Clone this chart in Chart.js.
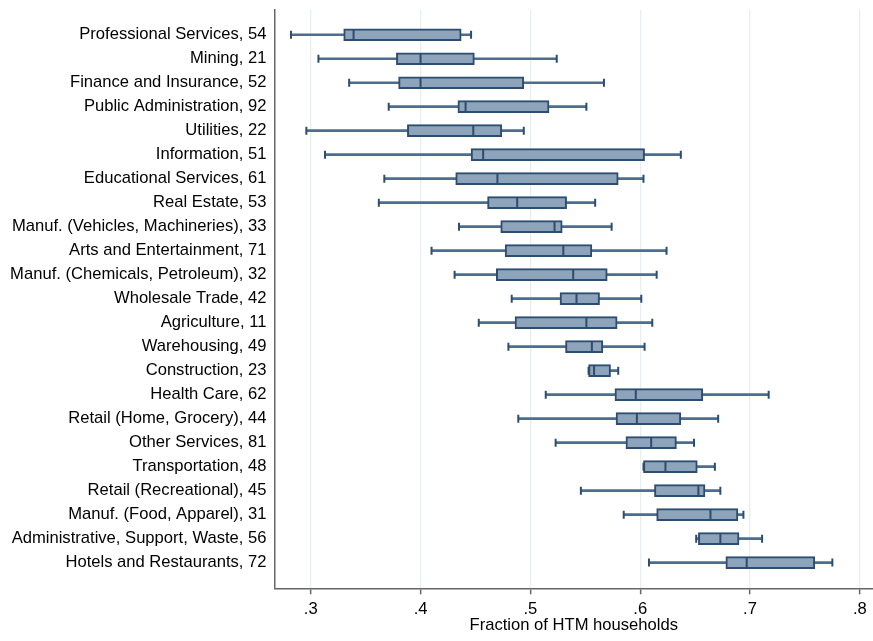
<!DOCTYPE html>
<html>
<head>
<meta charset="utf-8">
<script src="https://cdn.jsdelivr.net/npm/chart.js@4.4.0/dist/chart.umd.min.js"></script>
<style>
  html, body { margin: 0; padding: 0; background: #ffffff; }
  #wrap { width: 873px; height: 641px; }
</style>
</head>
<body>
<div id="wrap"><canvas id="chart" width="873" height="641"></canvas></div>
<script>
// Industries (top to bottom) and number of observations per industry
const industries = [
  "Professional Services", "Mining", "Finance and Insurance", "Public Administration",
  "Utilities", "Information", "Educational Services", "Real Estate",
  "Manuf. (Vehicles, Machineries)", "Arts and Entertainment", "Manuf. (Chemicals, Petroleum)",
  "Wholesale Trade", "Agriculture", "Warehousing", "Construction", "Health Care",
  "Retail (Home, Grocery)", "Other Services", "Transportation", "Retail (Recreational)",
  "Manuf. (Food, Apparel)", "Administrative, Support, Waste", "Hotels and Restaurants"
];
const counts = [54, 21, 52, 92, 22, 51, 61, 53, 33, 71, 32, 42, 11, 49, 23, 62, 44, 81, 48, 45, 31, 56, 72];

// Box plot statistics: fraction of hand-to-mouth households
const whiskerLow    = [0.282, 0.307, 0.335, 0.371, 0.296, 0.313, 0.367, 0.362, 0.435, 0.410, 0.431, 0.483, 0.453, 0.480, 0.553, 0.514, 0.489, 0.523, 0.603, 0.546, 0.585, 0.651, 0.608];
const lowerQuartile = [0.330, 0.378, 0.380, 0.434, 0.388, 0.446, 0.432, 0.461, 0.473, 0.477, 0.469, 0.527, 0.486, 0.532, 0.553, 0.577, 0.578, 0.587, 0.603, 0.613, 0.615, 0.653, 0.678];
const medians       = [0.339, 0.400, 0.400, 0.441, 0.448, 0.457, 0.470, 0.488, 0.522, 0.530, 0.539, 0.542, 0.551, 0.556, 0.558, 0.596, 0.597, 0.610, 0.623, 0.653, 0.664, 0.673, 0.697];
const upperQuartile = [0.437, 0.449, 0.494, 0.517, 0.474, 0.604, 0.580, 0.533, 0.529, 0.556, 0.570, 0.563, 0.579, 0.566, 0.573, 0.657, 0.637, 0.633, 0.652, 0.659, 0.689, 0.690, 0.759];
const whiskerHigh   = [0.446, 0.524, 0.567, 0.551, 0.494, 0.637, 0.603, 0.559, 0.574, 0.624, 0.615, 0.601, 0.611, 0.604, 0.580, 0.717, 0.671, 0.649, 0.668, 0.673, 0.694, 0.711, 0.775];

const xTickValues = [0.3, 0.4, 0.5, 0.6, 0.7, 0.8];
const xAxisTitle = "Fraction of HTM households";

const rowLabels = industries.map((name, i) => `${name}, ${counts[i]}`);
const rows = industries.map((_, i) => i + 1);

const BOX_FILL = "#8ea4ba";
const BOX_EDGE = "#2c4c70";
const WHISKER = "#4d6d8f";
const AXIS = "#666666";
const GRID = "#e8eef2";
const FONT = { family: "'Liberation Sans', Arial, sans-serif", size: 16.6 };

// Keep the plot frame fixed: no extra room reserved for edge tick labels
function clearScalePadding(scale) {
  scale.paddingLeft = 0;
  scale.paddingRight = 0;
  scale.paddingTop = 0;
  scale.paddingBottom = 0;
}

new Chart(document.getElementById("chart"), {
  type: "bar",
  data: {
    datasets: [
      {
        type: "scatter",
        label: "Median",
        data: rows.map((r, i) => ({ x: medians[i], y: r })),
        pointStyle: "line",
        pointRotation: 90,
        pointRadius: 5.6,
        pointBorderWidth: 2,
        pointBorderColor: BOX_EDGE,
        borderColor: BOX_EDGE,
        order: 0
      },
      {
        type: "bar",
        label: "Interquartile range",
        indexAxis: "y",
        grouped: false,
        data: rows.map((r, i) => ({ x: [lowerQuartile[i], upperQuartile[i]], y: r })),
        backgroundColor: BOX_FILL,
        borderColor: BOX_EDGE,
        borderWidth: 2,
        borderSkipped: false,
        barThickness: 12,
        order: 1
      },
      {
        type: "scatter",
        label: "Whisker caps",
        data: rows.flatMap((r, i) => [{ x: whiskerLow[i], y: r }, { x: whiskerHigh[i], y: r }]),
        pointStyle: "line",
        pointRotation: 90,
        pointRadius: 4,
        pointBorderWidth: 2,
        pointBorderColor: BOX_EDGE,
        borderColor: BOX_EDGE,
        order: 2
      },
      {
        type: "bar",
        label: "Whiskers",
        indexAxis: "y",
        grouped: false,
        data: rows.map((r, i) => ({ x: [whiskerLow[i], whiskerHigh[i]], y: r })),
        backgroundColor: WHISKER,
        borderWidth: 0,
        barThickness: 2,
        order: 3
      }
    ]
  },
  options: {
    responsive: false,
    animation: false,
    indexAxis: "y",
    layout: { autoPadding: false, padding: { top: 10, left: 0, right: 0, bottom: 0 } },
    plugins: {
      legend: { display: false },
      tooltip: { enabled: false }
    },
    scales: {
      x: {
        type: "linear",
        position: "bottom",
        offset: false,
        min: 0.267,
        max: 0.812,
        afterBuildTicks: (scale) => { scale.ticks = xTickValues.map(v => ({ value: v })); },
        afterFit: (scale) => { scale.height = 52.7; clearScalePadding(scale); },
        ticks: {
          callback: (v) => Number(v).toFixed(1).replace(/^0/, ""),
          font: FONT,
          color: "#000000",
          padding: 5,
          maxRotation: 0
        },
        grid: {
          color: GRID,
          lineWidth: 1.3,
          drawTicks: true,
          tickLength: 6,
          tickColor: AXIS,
          tickWidth: 1.5
        },
        border: { display: true, color: AXIS, width: 1.5 },
        title: {
          display: true,
          text: xAxisTitle,
          font: FONT,
          color: "#000000",
          padding: { top: 0, bottom: 6 }
        }
      },
      y: {
        type: "linear",
        reverse: true,
        offset: false,
        min: -0.03,
        max: 24.07,
        afterBuildTicks: (scale) => { scale.ticks = rows.map(v => ({ value: v })); },
        afterFit: (scale) => { scale.width = 274.5; clearScalePadding(scale); },
        ticks: {
          callback: (v) => rowLabels[v - 1] ?? "",
          autoSkip: false,
          font: FONT,
          color: "#000000",
          padding: 8
        },
        grid: { display: false, drawTicks: false },
        border: { display: true, color: AXIS, width: 1.5 }
      }
    }
  }
});
</script>
</body>
</html>
